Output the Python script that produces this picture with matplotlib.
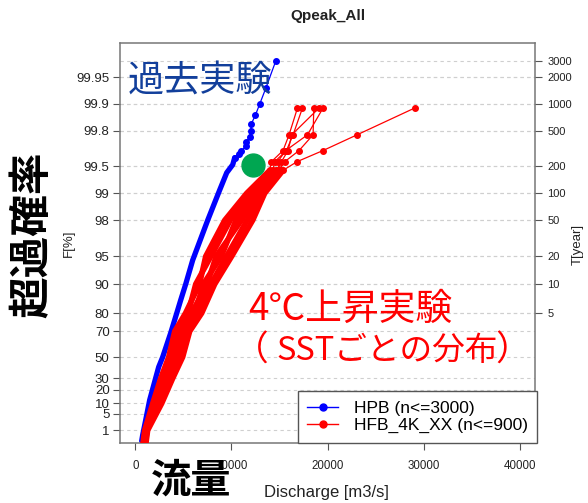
import numpy as np
import matplotlib
matplotlib.use('Agg')
import matplotlib.pyplot as plt
from matplotlib.lines import Line2D

plt.rcParams['font.family'] = ['Liberation Sans', 'DejaVu Sans']

# axis ticks
f_ticks = [99.95, 99.9, 99.8, 99.5, 99, 98, 95, 90, 80, 70, 50, 30, 20, 10, 5, 1]
f_labels = ['99.95', '99.9', '99.8', '99.5', '99', '98', '95', '90', '80', '70',
            '50', '30', '20', '10', '5', '1']
t_ticks = [3000, 2000, 1000, 500, 200, 100, 50, 20, 10, 5]
q_ticks = [0, 10000, 20000, 30000, 40000]

# HPB (past experiment), sparse upper ranks and dense body
hpb_top_q = [14615, 13570, 12950, 12500, 12080, 12010, 11900, 11560, 11490, 11040, 10760, 10340]
hpb_top_f = [99.967, 99.933, 99.9, 99.867, 99.833, 99.8, 99.767, 99.733, 99.7, 99.667, 99.633, 99.6]
hpb_body_q = [10340, 10135, 9510, 8780, 7530, 5970, 5240, 4720, 4406, 3677, 2844, 2427, 1490, 1073, 760, 656]
hpb_body_f = [99.6, 99.52, 99.41, 99.08, 98.0, 94.5, 90.0, 85.3, 81.4, 68.9, 50.0, 40.8, 12.2, 2.9, 0.55, 0.23]

# HFB_4K (6 SST members)
hfb_top_f = [99.889, 99.778, 99.667, 99.556, 99.445]
hfb_top_q = [
    [16875, 16000, 15375, 14167, 13990],
    [17396, 16417, 15729, 14510, 14302],
    [19125, 16281, 15896, 15208, 14688],
    [18573, 18500, 17042, 15552, 14927],
    [19542, 17917, 15656, 14823, 15208],
    [29094, 23083, 19542, 16833, 15375],
]
hfb_body_f = [99.0, 98, 95, 90, 80, 70, 50, 30, 10, 1, 0.111]
hfb_body_q = [
    [11594, 9302, 7323, 6677, 5219, 4094, 3469, 2635, 1802, 969, 760],
    [11969, 9885, 7865, 6281, 5490, 4406, 3760, 2885, 1990, 1031, 823],
    [12344, 10469, 8948, 7073, 6198, 4719, 4052, 3135, 2177, 1094, 885],
    [12719, 11052, 8406, 7469, 5844, 5031, 4344, 3385, 2365, 1156, 948],
    [13094, 11635, 9490, 7865, 6552, 5344, 4635, 3635, 2552, 1219, 1010],
    [13469, 12219, 10031, 8260, 6906, 5656, 4927, 3885, 2740, 1281, 1073],
]

# marked point
green_q = [12270]
green_f = [99.51]


def gumbel(f_pct):
    return -np.log(-np.log(np.asarray(f_pct, dtype=float) / 100.0))


W, H = 588, 503
fig = plt.figure(figsize=(W / 100, H / 100), dpi=100)
ax = fig.add_axes([120 / W, 1 - 443 / H, 415 / W, 400 / H])

red = '#ff0000'
blue = '#0000ff'

# grid lines
grid_f = list(f_ticks) + [100 * (1 - 1 / t) for t in t_ticks]
for g in gumbel(grid_f):
    ax.axhline(g, color='#cfcfcf', lw=0.8, ls=(0, (3, 3)), zorder=0)

# HPB
ax.plot(hpb_body_q, gumbel(hpb_body_f), color=blue, lw=3.8,
        solid_capstyle='round', solid_joinstyle='round', zorder=2)
ax.plot(hpb_top_q, gumbel(hpb_top_f), color=blue, lw=0.9, marker='o', ms=4, zorder=2)

# HFB_4K
for tq, bq in zip(hfb_top_q, hfb_body_q):
    ax.plot([tq[-1]] + bq, gumbel([hfb_top_f[-1]] + hfb_body_f), color=red, lw=4.0,
            solid_capstyle='round', solid_joinstyle='round', zorder=3)
    ax.plot(tq + [bq[0]], gumbel(hfb_top_f + [hfb_body_f[0]]), color=red, lw=0.9, zorder=3)
    ax.plot(tq, gumbel(hfb_top_f), color=red, lw=0, marker='o', ms=4, zorder=3)

ax.plot(green_q, gumbel(green_f), 'o', color='#00a651', ms=16.5, zorder=5)

ax.set_xlim(-1600, 41600)
ax.set_ylim(-1.855, 8.481)
ax.set_xticks(q_ticks)
ax.set_xticklabels([str(q) for q in q_ticks])
ax.set_yticks(gumbel(f_ticks))
ax.set_yticklabels(f_labels)
ax.tick_params(axis='x', length=5, pad=7, labelsize=8.3, color='#555555', labelcolor='#222222')
ax.tick_params(axis='y', length=5, pad=2.5, labelsize=9.5, color='#555555', labelcolor='#222222')
for s in ax.spines.values():
    s.set_color('#777777')
    s.set_linewidth(1.1)

ax2 = ax.twinx()
ax2.set_ylim(ax.get_ylim())
ax2.set_yticks(gumbel([100 * (1 - 1 / t) for t in t_ticks]))
ax2.set_yticklabels([str(t) for t in t_ticks])
ax2.tick_params(axis='y', length=5, pad=4, labelsize=8, color='#555555', labelcolor='#222222')
for s in ax2.spines.values():
    s.set_visible(False)

handles = [Line2D([], [], color=blue, lw=1, marker='o', ms=5),
           Line2D([], [], color=red, lw=1, marker='o', ms=5)]
leg = ax.legend(handles, ['HPB (n<=3000)', 'HFB_4K_XX (n<=900)'], loc='lower right',
                bbox_to_anchor=(1.006, 0), borderaxespad=0, fontsize=12.5,
                fancybox=False, framealpha=1, edgecolor='#555555',
                handlelength=1.8, handletextpad=0.9, labelspacing=0.12, borderpad=0.55)
leg.get_frame().set_linewidth(1.0)
leg.set_zorder(6)


def px(x, y):
    return x / W, 1 - y / H


fig.text(*px(328, 16), 'Qpeak_All', ha='center', va='center', fontsize=11, weight='bold', color='#222222')
fig.text(*px(69, 243), 'F[%]', ha='center', va='center', rotation=90, fontsize=9.5, color='#222222')
fig.text(*px(578, 244), 'T[year]', ha='center', va='center', rotation=90, fontsize=9.5, color='#222222')
fig.text(*px(326, 492), 'Discharge [m3/s]', ha='center', va='center', fontsize=12, color='#222222')

jp = ['Noto Sans CJK JP', 'DejaVu Sans']
fig.text(*px(200, 82), '過去実験', ha='center', va='center', fontsize=26, color='#123f9b', family=jp, zorder=10)
fig.text(*px(32, 235), '超過確率', ha='center', va='center', rotation=90, fontsize=30,
         weight='bold', color='black', family=jp, zorder=10)
fig.text(*px(191, 481), '流量', ha='center', va='center', fontsize=29, weight='bold', color='black', family=jp, zorder=10)
fig.text(*px(248, 309), '4℃上昇実験', ha='left', va='center', fontsize=26.5, color=red, family=jp, zorder=10)
fig.text(*px(269, 351), '（', ha='right', va='center', fontsize=25, color=red, family=jp, zorder=10)
fig.text(*px(276, 351), 'SSTごとの分布', ha='left', va='center', fontsize=23.5, color=red, family=jp, zorder=10)
fig.text(*px(495, 351), '）', ha='left', va='center', fontsize=25, color=red, family=jp, zorder=10)

fig.savefig('out.png', dpi=100)
